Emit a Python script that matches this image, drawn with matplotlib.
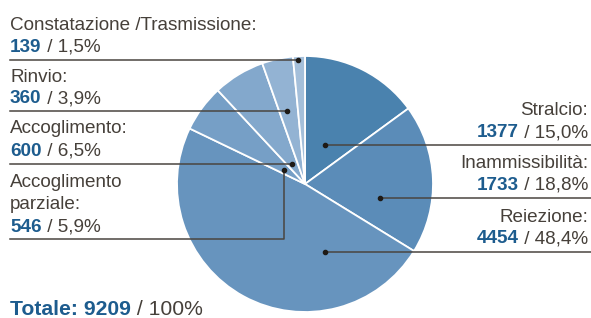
import matplotlib
matplotlib.use("Agg")
import matplotlib.pyplot as plt

# Data (clockwise from 12 o'clock)
labels = ["Stralcio:", "Inammissibilità:", "Reiezione:", "Accoglimento\nparziale:",
          "Accoglimento:", "Rinvio:", "Constatazione /Trasmissione:"]
values = [1377, 1733, 4454, 546, 600, 360, 139]
total = 9209
colors = ["#4a82ae", "#5b8cb8", "#6794be", "#769fc6", "#83a8cc", "#93b3d3", "#a4bfda"]

W, H = 591, 318
fig = plt.figure(figsize=(W / 100, H / 100), dpi=100)
ax = fig.add_axes([0, 0, 1, 1])

def Y(py):
    return H - py

ax.pie(values, colors=colors, startangle=90, counterclock=False,
       center=(305, Y(184)), radius=128,
       wedgeprops=dict(edgecolor="white", linewidth=1.3), frame=True)
ax.set_xlim(0, W)
ax.set_ylim(0, H)
ax.set_aspect("equal")
ax.axis("off")

GREY = "#46403a"
BLUE = "#1d5c8e"
LINE = "#4a4540"
FS = 13.6
FONT = "Liberation Sans"

fig.canvas.draw()
renderer = fig.canvas.get_renderer()

def fmt_pct(v):
    return f"{100 * v / total:.1f}".replace(".", ",") + "%"

def value_line(x, py, num, rest, ha="left", fs=FS):
    if ha == "left":
        t = ax.text(x, Y(py), num, fontsize=fs, fontweight="bold", color=BLUE,
                    family=FONT, ha="left", va="baseline")
        bb = t.get_window_extent(renderer).transformed(ax.transData.inverted())
        ax.text(bb.x1, Y(py), rest, fontsize=fs, color=GREY, family=FONT,
                ha="left", va="baseline")
    else:
        t = ax.text(x, Y(py), rest, fontsize=fs, color=GREY, family=FONT,
                    ha="right", va="baseline")
        bb = t.get_window_extent(renderer).transformed(ax.transData.inverted())
        ax.text(bb.x0, Y(py), num, fontsize=fs, fontweight="bold", color=BLUE,
                family=FONT, ha="right", va="baseline")

# layout: (label baseline rows, value baseline, line y, dot x, dot y, side)
layout = {
    "Stralcio:": ([115], 137, 145, 325, 145, "right"),
    "Inammissibilità:": ([168], 190, 198, 380, 198, "right"),
    "Reiezione:": ([222], 243, 252, 325, 252, "right"),
    "Accoglimento\nparziale:": ([187, 209], 232, 239, 284, 170, "elbow"),
    "Accoglimento:": ([133], 156, 164, 292, 164, "left"),
    "Rinvio:": ([82], 103, 111, 287, 111, "left"),
    "Constatazione /Trasmissione:": ([30], 52, 60, 298, 60, "left"),
}

for lab, v in zip(labels, values):
    rows, vb, ly, dx, dy, side = layout[lab]
    parts = lab.split("\n")
    num = str(v)
    rest = " / " + fmt_pct(v)
    if side == "right":
        for p, r in zip(parts, rows):
            ax.text(588, Y(r), p, fontsize=FS, color=GREY, family=FONT,
                    ha="right", va="baseline")
        value_line(588, vb, num, rest, ha="right")
        ax.plot([dx, W], [Y(ly), Y(ly)], color=LINE, lw=1.1, solid_capstyle="butt")
    else:
        for p, r in zip(parts, rows):
            ax.text(10, Y(r), p, fontsize=FS, color=GREY, family=FONT,
                    ha="left", va="baseline")
        value_line(10, vb, num, rest, ha="left")
        if side == "left":
            ax.plot([10, dx], [Y(ly), Y(ly)], color=LINE, lw=1.1)
        else:
            ax.plot([10, dx, dx], [Y(ly), Y(ly), Y(dy)], color=LINE, lw=1.1)
    ax.plot([dx], [Y(dy)], "o", color="#1e1a16", ms=3)

# Total
TFS = 15.2
t = ax.text(10, Y(315), "Totale: " + str(total), fontsize=TFS, fontweight="bold",
            color=BLUE, family=FONT, ha="left", va="baseline")
bb = t.get_window_extent(renderer).transformed(ax.transData.inverted())
ax.text(bb.x1, Y(315), " / 100%", fontsize=TFS, color=GREY, family=FONT,
        ha="left", va="baseline")

fig.savefig("out.png", dpi=100)
